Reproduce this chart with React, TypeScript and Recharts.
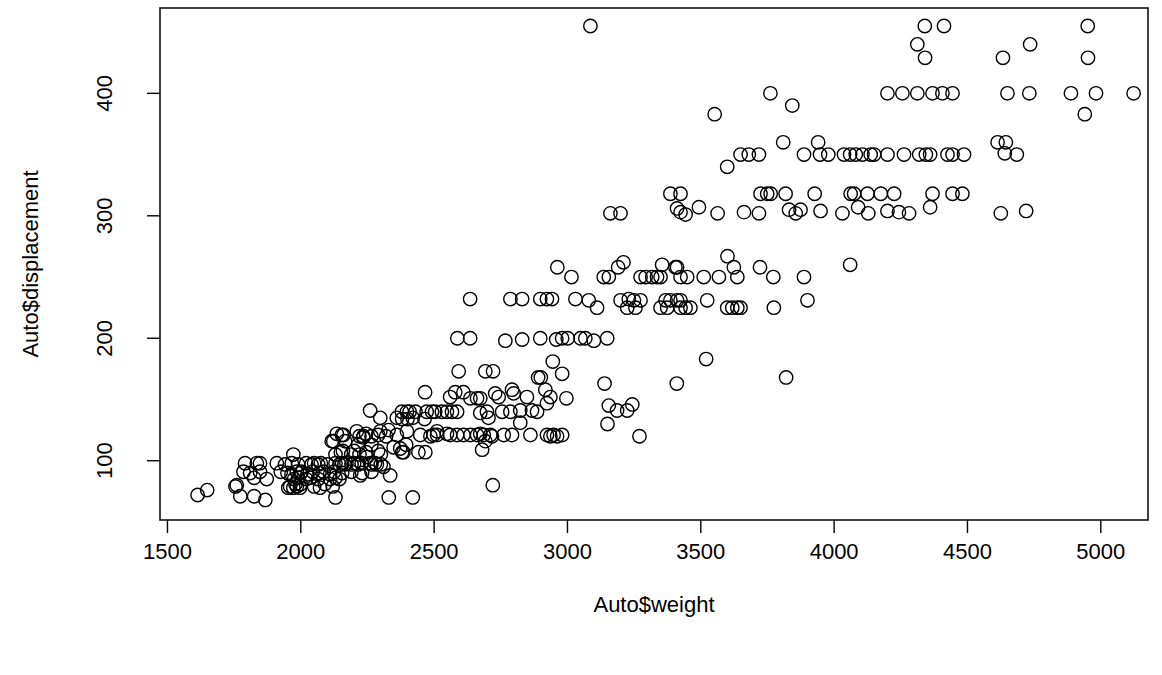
import { ScatterChart, Scatter, XAxis, YAxis, ReferenceArea } from 'recharts';

// Auto$weight vs Auto$displacement
const bigBlocks: [number, number][] = [
  [3086, 455], [4340, 455], [4412, 455], [4951, 455],
  [4312, 440], [4735, 440],
  [4341, 429], [4633, 429], [4952, 429],
  [3761, 400], [4200, 400], [4256, 400], [4312, 400], [4369, 400], [4406, 400], [4444, 400],
  [4650, 400], [4732, 400], [4888, 400], [4982, 400], [5123, 400],
  [3843, 390], [3552, 383], [4940, 383],
  [3809, 360], [3940, 360], [4613, 360], [4644, 360],
];

const band350: [number, number][] = [
  [3599, 340],
  [3649, 350], [3680, 350], [3718, 350], [3887, 350], [3947, 350], [3978, 350], [4037, 350],
  [4060, 350], [4081, 350], [4106, 350], [4137, 350], [4150, 350], [4200, 350], [4262, 350],
  [4319, 350], [4344, 350], [4360, 350], [4425, 350], [4444, 350], [4487, 350], [4640, 351], [4685, 350],
];

const band300: [number, number][] = [
  [3386, 318], [3424, 318], [3724, 318], [3749, 318], [3762, 318], [3818, 318], [3927, 318],
  [4062, 318], [4075, 318], [4125, 318], [4175, 318], [4225, 318], [4369, 318], [4444, 318], [4481, 318],
  [3161, 302], [3199, 302], [3411, 306], [3424, 303], [3443, 301], [3493, 307], [3563, 302],
  [3662, 303], [3718, 302], [3831, 305], [3856, 302], [3874, 305], [3949, 304], [4031, 302],
  [4090, 307], [4128, 302], [4200, 304], [4243, 303], [4281, 302], [4360, 307], [4625, 302], [4720, 304],
];

const band250: [number, number][] = [
  [3600, 267], [3190, 258], [3210, 262], [3355, 260], [3405, 258], [3411, 258], [3624, 258],
  [3722, 258], [4060, 260], [2962, 258],
  [3015, 250], [3136, 250], [3155, 250], [3274, 250], [3293, 250], [3318, 250], [3336, 250], [3349, 250],
  [3424, 250], [3449, 250], [3511, 250], [3568, 250], [3637, 250], [3772, 250], [3887, 250],
  [2635, 232], [2786, 232], [2830, 232], [2898, 232], [2923, 232], [2942, 232], [3030, 232],
  [3080, 231], [3199, 231], [3230, 232], [3249, 231], [3274, 231], [3368, 231], [3386, 231],
  [3411, 231], [3424, 231], [3524, 231], [3900, 231],
  [3111, 225], [3224, 225], [3255, 225], [3349, 225], [3374, 225], [3424, 225], [3443, 225],
  [3461, 225], [3599, 225], [3618, 225], [3637, 225], [3649, 225], [3774, 225],
];

const band200: [number, number][] = [
  [2587, 200], [2635, 200], [2767, 198], [2830, 199], [2898, 200], [2958, 199], [2980, 200],
  [3001, 200], [3049, 200], [3067, 200], [3099, 198], [3149, 200],
  [3520, 183], [2945, 181], [2592, 173], [2692, 173], [2721, 173], [2980, 171], [2890, 168],
  [2900, 168], [3820, 168], [3139, 163], [3410, 163],
];

const band150: [number, number][] = [
  [2466, 156], [2560, 152], [2579, 156], [2610, 156], [2636, 151], [2661, 151], [2673, 151],
  [2729, 155], [2742, 152], [2792, 158], [2798, 155], [2848, 152], [2917, 158], [2936, 152], [2996, 151],
  [2923, 147], [3155, 145], [3243, 146], [3186, 141], [3224, 141], [2867, 141], [2886, 140],
  [2823, 141], [2755, 140], [2786, 140], [2698, 140], [2673, 139], [2704, 135], [2823, 131], [3150, 130],
  [2260, 141], [2298, 135], [2360, 135], [2379, 140], [2398, 140], [2492, 140], [2504, 140],
  [2529, 140], [2548, 140], [2567, 140], [2586, 140],
  [2380, 134], [2400, 134], [2408, 140], [2420, 135], [2430, 140], [2464, 134], [2472, 140],
];

const band120: [number, number][] = [
  [2673, 122], [2717, 120], [2692, 116], [2680, 109], [2792, 121], [2861, 121], [2923, 121],
  [2936, 120], [2948, 121], [2961, 120], [2980, 121], [3270, 120],
  [2448, 121], [2486, 120], [2498, 121], [2511, 121], [2560, 121], [2586, 121], [2610, 121],
  [2636, 121], [2661, 121], [2686, 121], [2711, 121], [2761, 121],
  [2329, 125], [2360, 121], [2398, 124], [2160, 121], [2210, 124], [2235, 120], [2298, 124],
  [2511, 124], [2548, 122],
  [2348, 111], [2373, 110], [2385, 107], [2441, 107], [2467, 107],
  [2116, 116], [2135, 122], [2122, 116], [2154, 121], [2166, 116],
  [2220, 120], [2234, 119], [2245, 122], [2265, 120], [2290, 121], [2320, 120],
  [2130, 105], [2150, 107], [2158, 108], [2189, 105], [2200, 108], [2215, 113], [2220, 105],
  [2245, 107], [2265, 113], [2290, 108], [2300, 105], [2380, 107], [2395, 113],
];

const smallCars: [number, number][] = [
  [1613, 72], [1649, 76], [1755, 79], [1760, 80], [1773, 71], [1825, 71], [1867, 68], [1825, 86],
  [1791, 98], [1835, 98], [1847, 98], [1785, 91], [1810, 90], [1872, 85], [1847, 91], [1910, 98],
  [1941, 97], [1966, 98], [1972, 105], [1953, 78], [1972, 78], [1997, 78], [2072, 78],
  [2130, 70], [2330, 70], [2420, 70], [2720, 80],
  [2248, 103], [2260, 98], [2285, 97], [2310, 95], [2335, 88], [2223, 88],
  [1990, 97], [2020, 98], [2040, 97], [2050, 98], [2065, 97], [2075, 98], [2100, 97], [2130, 98],
  [2145, 97], [2155, 98], [2164, 97], [2171, 98], [2190, 97], [2200, 98], [2215, 97], [2228, 98],
  [2265, 97], [2278, 98], [2300, 97],
  [1925, 91], [1950, 90], [1965, 89], [1985, 91], [2000, 90], [2003, 91], [2025, 89], [2045, 91],
  [2070, 90], [2085, 91], [2110, 89], [2125, 91], [2155, 90], [2190, 91], [2230, 90], [2265, 91],
  [1975, 85], [1990, 86], [2020, 85], [2035, 86], [2065, 85], [2110, 85], [2130, 86], [2145, 85],
  [1960, 79], [1980, 81], [1985, 79], [2000, 81], [2050, 79], [2090, 81], [2120, 79],
];

const xTicks = [1500, 2000, 2500, 3000, 3500, 4000, 4500, 5000];
const yTicks = [100, 200, 300, 400];

const data = [
  ...bigBlocks, ...band350, ...band300, ...band250, ...band200, ...band150, ...band120, ...smallCars,
].map(([w, d]) => ({ w, d }));

const font = '"Liberation Sans", Arial, sans-serif';
const fs = 22;

const Ring = (p: any) => (
  <circle cx={p.cx} cy={p.cy} r={6.7} fill="none" stroke="#000" strokeWidth={1.4} />
);

const YTick = ({ x, y, payload }: any) => (
  <text x={x} y={y} transform={`rotate(-90 ${x} ${y})`} textAnchor="middle"
    fontSize={fs} fontFamily={font} fill="#000">
    {payload.value}
  </text>
);

const XTitle = ({ viewBox }: any) => (
  <text x={viewBox.x + viewBox.width / 2} y={viewBox.y + 92} textAnchor="middle"
    fontSize={fs} fontFamily={font} fill="#000">
    Auto$weight
  </text>
);

const YTitle = ({ viewBox }: any) => {
  const x = viewBox.x + 38;
  const y = viewBox.y + viewBox.height / 2;
  return (
    <text x={x} y={y} transform={`rotate(-90 ${x} ${y})`} textAnchor="middle"
      fontSize={fs} fontFamily={font} fill="#000">
      Auto$displacement
    </text>
  );
};

export default function App() {
  return (
    <div style={{ position: 'absolute', left: 0, top: 0, background: '#fff' }}>
      <ScatterChart width={1162} height={675} margin={{ top: 8, right: 14, bottom: 0, left: 0 }}>
        <XAxis type="number" dataKey="w" domain={[1472, 5177]} ticks={xTicks} allowDataOverflow
          height={155} axisLine={false} tickSize={13} tickMargin={10}
          tickLine={{ stroke: '#000', strokeWidth: 1.4 }}
          tick={{ fontSize: fs, fontFamily: font, fill: '#000' }}
          label={{ content: XTitle }} />
        <YAxis type="number" dataKey="d" domain={[51.6, 469.7]} ticks={yTicks} allowDataOverflow
          width={160} axisLine={false} tickSize={13} tickMargin={35}
          tickLine={{ stroke: '#000', strokeWidth: 1.4 }}
          tick={YTick} label={{ content: YTitle }} />
        <ReferenceArea x1={1472} x2={5177} y1={51.6} y2={469.7} fill="none"
          stroke="#000" strokeWidth={1.5} ifOverflow="visible" />
        <Scatter data={data} shape={Ring} isAnimationActive={false} />
      </ScatterChart>
    </div>
  );
}
